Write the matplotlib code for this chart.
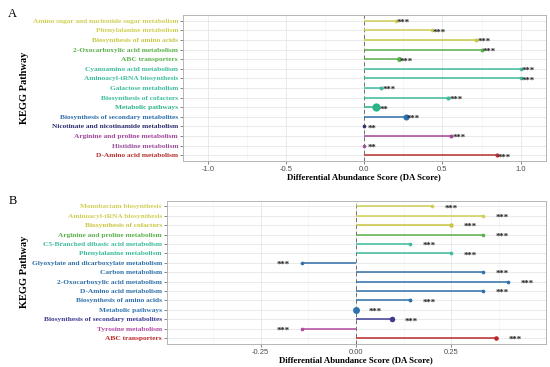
import numpy as np
import matplotlib.pyplot as plt
from matplotlib.ticker import MultipleLocator

# ---- data (top to bottom) ----
a_paths = ["Amino sugar and nucleotide sugar metabolism", "Phenylalanine metabolism",
           "Biosynthesis of amino acids", "2-Oxocarboxylic acid metabolism", "ABC transporters",
           "Cyanoamino acid metabolism", "Aminoacyl-tRNA biosynthesis", "Galactose metabolism",
           "Biosynthesis of cofactors", "Metabolic pathways",
           "Biosynthesis of secondary metabolites", "Nicotinate and nicotinamide metabolism",
           "Arginine and proline metabolism", "Histidine metabolism", "D-Amino acid metabolism"]
a_scores = [0.20, 0.43, 0.715, 0.75, 0.22, 1.0, 1.0, 0.11, 0.536, 0.077, 0.264, 0.0, 0.557, 0.0, 0.847]
a_counts = [2, 2, 3, 3, 8, 2, 2, 3, 4, 30, 14, 2, 3, 2, 4]
a_sig = ["***", "***", "***", "***", "***", "***", "***", "***", "***", "**", "***", "**", "***", "**", "***"]
a_colors = ["#cfcf55", "#cfcf55", "#c8c845", "#5bb04c", "#5bb04c", "#3dbb9e", "#3dbb9e", "#3dbb9e",
            "#3dbb9e", "#2bb38a", "#2e6fad", "#2c2f70", "#a3459a", "#9c4f9c", "#b43232"]

b_paths = ["Monobactam biosynthesis", "Aminoacyl-tRNA biosynthesis", "Biosynthesis of cofactors",
           "Arginine and proline metabolism", "C5-Branched dibasic acid metabolism",
           "Phenylalanine metabolism", "Glyoxylate and dicarboxylate metabolism", "Carbon metabolism",
           "2-Oxocarboxylic acid metabolism", "D-Amino acid metabolism", "Biosynthesis of amino acids",
           "Metabolic pathways", "Biosynthesis of secondary metabolites", "Tyrosine metabolism",
           "ABC transporters"]
b_scores = [0.20, 0.333, 0.25, 0.333, 0.143, 0.25, -0.142, 0.333, 0.40, 0.333, 0.143, 0.0, 0.095, -0.142, 0.368]
b_counts = [2, 2, 5, 2, 2, 2, 2, 2, 2, 2, 3, 20, 11, 2, 6]
b_sig = ["***"] * 15
b_colors = ["#cfcf55", "#cfcf55", "#c9c440", "#5bb04c", "#3dbb9e", "#3dbb9e", "#3070aa", "#3070aa",
            "#3070aa", "#3070aa", "#3070aa", "#2f74b0", "#3e3a92", "#b04aa2", "#b82a2a"]

serif = ["Liberation Serif", "DejaVu Serif"]
sans = ["Liberation Sans", "DejaVu Sans"]

fig = plt.figure(figsize=(5.5, 3.67), dpi=100)


def lollipop(ax, paths, scores, counts, sig, colors, xlim, step, fmt):
    n = len(paths)
    y = np.arange(n)[::-1]
    ax.set_xlim(*xlim)
    ax.set_ylim(-0.6, n - 0.4)
    ax.grid(which="major", color="#e6e6e6", linewidth=0.6)
    ax.grid(which="minor", axis="x", color="#f2f2f2", linewidth=0.4)
    ax.set_axisbelow(True)
    ax.axvline(0, color="#6f6f6f", linestyle=(0, (4, 3)), linewidth=0.7, zorder=1)
    for yi, s, c, col, st in zip(y, scores, counts, colors, sig):
        ax.plot([0, s], [yi, yi], color=col, linewidth=1.1, solid_capstyle="butt", zorder=2)
        ax.scatter([s], [yi], s=5 + c * 1.0, color=col, zorder=3, linewidths=0)
        off = 0.05 if s >= 0 else -0.05
        ax.text(s + off, yi - 0.22, st, ha="center", va="center", fontsize=6.3,
                family=serif, fontweight="bold", color="#222222")
    ax.set_yticks(y)
    ax.set_yticklabels(paths, family=serif, fontweight="bold", fontsize=5.3)
    for lab, col in zip(ax.get_yticklabels(), colors):
        lab.set_color(col)
    ticks = np.arange(np.ceil(xlim[0] / step) * step, xlim[1] + 1e-9, step)
    ax.set_xticks(ticks)
    ax.set_xticklabels([fmt.format(t + 0.0) for t in ticks], family=sans, fontsize=5.5, color="#4d4d4d")
    ax.xaxis.set_minor_locator(MultipleLocator(step / 2))
    ax.tick_params(axis="both", length=2, width=0.5, color="#555555", pad=1.5)
    ax.tick_params(which="minor", length=0)
    for sp in ax.spines.values():
        sp.set_color("#b5b5b5")
        sp.set_linewidth(0.7)
    ax.set_xlabel("Differential Abundance Score (DA Score)", family=serif, fontweight="bold",
                  fontsize=6.3, labelpad=0.5)
    ax.set_ylabel("KEGG Pathway", family=serif, fontweight="bold", fontsize=7.5)


ax1 = fig.add_axes([0.3327, 0.5613, 0.992 - 0.3327, 0.959 - 0.5613])
lollipop(ax1, a_paths, a_scores, a_counts, a_sig, a_colors, (-1.16, 1.16), 0.5, "{:.1f}")
ax1.yaxis.set_label_coords(-0.425, 0.5)

ax2 = fig.add_axes([0.303, 0.0635, 0.992 - 0.303, 0.453 - 0.0635])
lollipop(ax2, b_paths, b_scores, b_counts, b_sig, b_colors, (-0.4965, 0.4975), 0.25, "{:.2f}")
ax2.yaxis.set_label_coords(-0.363, 0.5)

fig.text(0.015, 0.978, "A", family=serif, fontsize=9, va="top")
fig.text(0.015, 0.47, "B", family=serif, fontsize=9, va="top")

fig.savefig("out.png", dpi=100, facecolor="white")
